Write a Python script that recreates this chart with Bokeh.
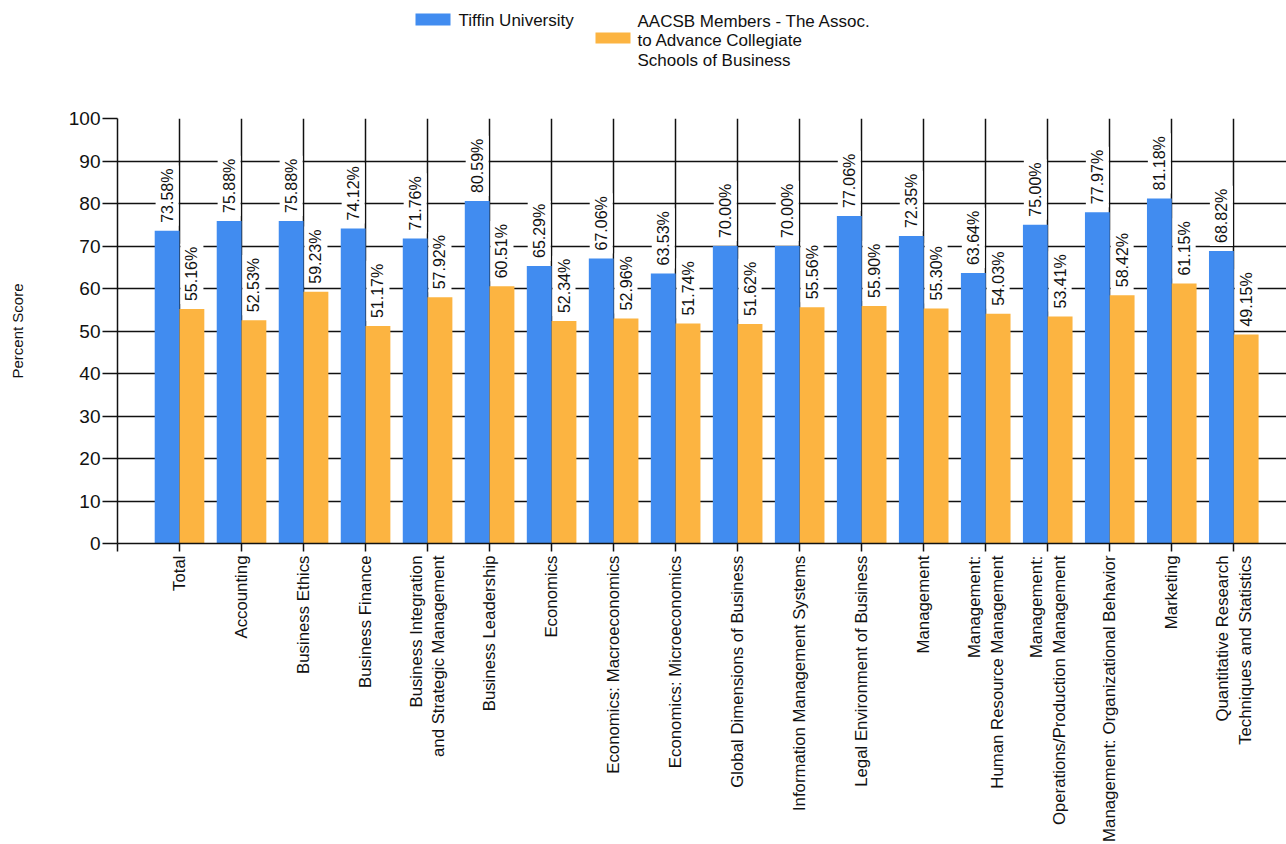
from bokeh.plotting import figure
from bokeh.models import ColumnDataSource, FixedTicker, Range1d
from bokeh.layouts import column
from bokeh.transform import dodge
from bokeh.core.properties import value
from bokeh.embed import file_html
from bokeh.resources import INLINE

categories = [
    "Total", "Accounting", "Business Ethics", "Business Finance",
    "Business Integration\nand Strategic Management", "Business Leadership",
    "Economics", "Economics: Macroeconomics", "Economics: Microeconomics",
    "Global Dimensions of Business", "Information Management Systems",
    "Legal Environment of Business", "Management",
    "Management:\nHuman Resource Management",
    "Management:\nOperations/Production Management",
    "Management: Organizational Behavior", "Marketing",
    "Quantitative Research\nTechniques and Statistics",
]
tiffin = [73.58, 75.88, 75.88, 74.12, 71.76, 80.59, 65.29, 67.06, 63.53,
          70.00, 70.00, 77.06, 72.35, 63.64, 75.00, 77.97, 81.18, 68.82]
aacsb = [55.16, 52.53, 59.23, 51.17, 57.92, 60.51, 52.34, 52.96, 51.74,
         51.62, 55.56, 55.90, 55.30, 54.03, 53.41, 58.42, 61.15, 49.15]
series_names = ["Tiffin University",
                "AACSB Members - The Assoc.\nto Advance Collegiate\nSchools of Business"]
y_ticks = list(range(0, 101, 10))
y_label = "Percent Score"

BLUE = "#418CF0"
ORANGE = "#FCB441"
FONT = "Liberation Sans"
INK = "#111111"

LEFT = 117
FRAME_W = 1169
LEG_H = 106
MAIN_TOP = 12

# ---------------- legend strip (page pixel coordinates) ----------------
leg = figure(frame_width=FRAME_W, frame_height=LEG_H,
             x_range=Range1d(LEFT, LEFT + FRAME_W), y_range=Range1d(LEG_H, 0),
             output_backend="svg", toolbar_location=None,
             x_axis_type=None, y_axis_type=None,
             min_border_left=LEFT, min_border_right=0,
             min_border_top=0, min_border_bottom=0,
             outline_line_color=None, border_fill_color="white",
             background_fill_color="white")
leg.xgrid.visible = False
leg.ygrid.visible = False
leg_colors = [BLUE, ORANGE]
sw = dict(left=[415, 595], right=[450, 630], top=[13, 32], bottom=[25, 43])
leg.quad(left=sw["left"], right=sw["right"], top=sw["top"], bottom=sw["bottom"],
         fill_color=leg_colors, line_color=None)
leg.text(x=[458], y=[20], text=[series_names[0]], text_baseline="middle",
         text_font=value(FONT), text_font_size="17px", text_color=INK)
leg.text(x=[637], y=[11], text=[series_names[1]], text_baseline="top",
         text_line_height=1.05,
         text_font=value(FONT), text_font_size="17px", text_color=INK)

# ---------------- main chart ----------------
pos = list(range(1, len(categories) + 1))
src = ColumnDataSource(dict(
    x=pos, t=tiffin, a=aacsb,
    tl=[f"{v:.2f}%" for v in tiffin],
    al=[f"{v:.2f}%" for v in aacsb],
))

p = figure(frame_width=FRAME_W, frame_height=425,
           x_range=(0, 18.85), y_range=(0, 100),
           output_backend="svg", toolbar_location=None,
           min_border_left=LEFT, min_border_right=0, min_border_top=MAIN_TOP,
           min_border_bottom=0, outline_line_color=None,
           background_fill_color="white", border_fill_color="white")

p.xgrid.ticker = FixedTicker(ticks=pos)
p.ygrid.ticker = FixedTicker(ticks=y_ticks)
for g in (p.xgrid, p.ygrid):
    g.grid_line_color = INK
    g.grid_line_width = 1.5

p.vbar(x=dodge("x", -0.2), top="t", width=0.4, source=src,
       fill_color=BLUE, line_color=None)
p.vbar(x=dodge("x", 0.2), top="a", width=0.4, source=src,
       fill_color=ORANGE, line_color=None)

for col, lab, off in (("t", "tl", -0.2), ("a", "al", 0.2)):
    p.text(x=dodge("x", off), y=col, text=lab, source=src,
           angle=90, angle_units="deg",
           text_align="left", text_baseline="middle",
           y_offset=-5, padding=3,
           background_fill_color="white",
           text_font=value(FONT), text_font_size="16px",
           text_color=INK)

xa = p.xaxis[0]
xa.ticker = FixedTicker(ticks=[0] + pos)
xa.major_label_overrides = {0: ""} | {i: c for i, c in zip(pos, categories)}
xa.major_label_orientation = 1.5707963
xa.major_label_text_font = FONT
xa.major_label_text_font_size = "16.8px"
xa.major_label_text_color = INK
xa.major_tick_in = 0
xa.major_tick_out = 8
xa.minor_tick_line_color = None
xa.major_label_standoff = 4
xa.axis_line_width = 1.5
xa.major_tick_line_width = 1.5
xa.axis_line_color = INK
xa.major_tick_line_color = INK

ya = p.yaxis[0]
ya.ticker = FixedTicker(ticks=y_ticks)
ya.major_label_text_font = FONT
ya.major_label_text_font_size = "19px"
ya.major_label_text_color = INK
ya.major_tick_in = 0
ya.major_tick_out = 15
ya.minor_tick_line_color = None
ya.major_label_standoff = 2
ya.axis_line_width = 1.5
ya.major_tick_line_width = 1.5
ya.axis_line_color = INK
ya.major_tick_line_color = INK
ya.axis_label = y_label
ya.axis_label_text_font = FONT
ya.axis_label_text_font_size = "15px"
ya.axis_label_text_font_style = "normal"
ya.axis_label_text_color = INK
ya.axis_label_standoff = 40

layout = column(leg, p, spacing=0)
open("out.html", "w").write(file_html(layout, INLINE))
